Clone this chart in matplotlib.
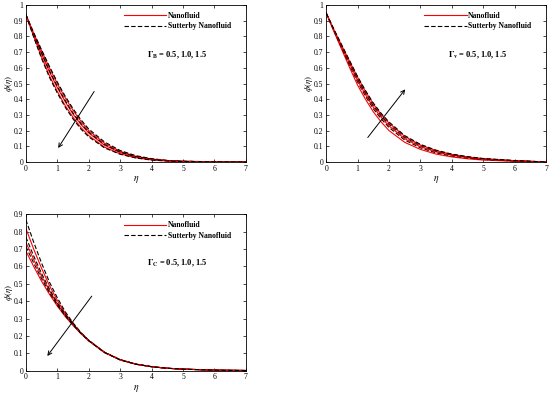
import matplotlib as mpl
import matplotlib.pyplot as plt

mpl.rcParams['font.family'] = ['Liberation Serif', 'DejaVu Serif']
mpl.rcParams['mathtext.fontset'] = 'stix'
mpl.rcParams['font.size'] = 5.5

# eta grid
eta = [0, 0.25, 0.5, 0.75, 1, 1.25, 1.5, 1.75, 2, 2.5, 3, 3.5, 4, 4.5, 5, 6, 7]

# panel 1: Gamma_B = 0.5, 1.0, 1.5
gb_nano = [
    [0.94, 0.82, 0.71, 0.60, 0.50, 0.41, 0.33, 0.26, 0.20, 0.12, 0.068, 0.036, 0.019, 0.009, 0.004, 0.001, 0],
    [0.94, 0.81, 0.69, 0.575, 0.475, 0.385, 0.305, 0.24, 0.185, 0.107, 0.06, 0.031, 0.016, 0.008, 0.0035, 0.0007, 0],
    [0.94, 0.80, 0.67, 0.55, 0.45, 0.36, 0.285, 0.22, 0.168, 0.095, 0.052, 0.027, 0.013, 0.006, 0.003, 0.0005, 0],
]
gb_sut = [
    [0.94, 0.825, 0.715, 0.61, 0.51, 0.42, 0.34, 0.27, 0.21, 0.128, 0.073, 0.04, 0.021, 0.01, 0.005, 0.001, 0],
    [0.94, 0.812, 0.695, 0.582, 0.482, 0.392, 0.312, 0.246, 0.19, 0.112, 0.063, 0.033, 0.017, 0.008, 0.004, 0.0008, 0],
    [0.94, 0.795, 0.66, 0.54, 0.44, 0.35, 0.275, 0.21, 0.16, 0.09, 0.049, 0.025, 0.012, 0.006, 0.0025, 0.0005, 0],
]

# panel 2: Gamma_v = 0.5, 1.0, 1.5
gv_nano = [
    [0.95, 0.83, 0.715, 0.60, 0.49, 0.40, 0.32, 0.255, 0.20, 0.125, 0.08, 0.05, 0.032, 0.02, 0.012, 0.004, 0],
    [0.95, 0.838, 0.73, 0.625, 0.52, 0.43, 0.35, 0.285, 0.23, 0.148, 0.097, 0.064, 0.042, 0.028, 0.018, 0.007, 0],
    [0.95, 0.842, 0.74, 0.64, 0.54, 0.45, 0.37, 0.303, 0.248, 0.163, 0.108, 0.072, 0.048, 0.032, 0.021, 0.008, 0],
]
gv_sut = [
    [0.95, 0.835, 0.725, 0.615, 0.51, 0.42, 0.34, 0.275, 0.22, 0.14, 0.09, 0.058, 0.038, 0.025, 0.016, 0.006, 0],
    [0.95, 0.84, 0.735, 0.632, 0.53, 0.44, 0.36, 0.295, 0.24, 0.157, 0.104, 0.069, 0.046, 0.031, 0.02, 0.008, 0],
    [0.95, 0.845, 0.745, 0.645, 0.545, 0.456, 0.376, 0.31, 0.255, 0.168, 0.112, 0.075, 0.05, 0.034, 0.022, 0.009, 0],
]

# panel 3: Gamma_C = 0.5, 1.0, 1.5
gc_nano = [
    [0.82, 0.70, 0.59, 0.49, 0.405, 0.33, 0.27, 0.217, 0.173, 0.105, 0.062, 0.037, 0.022, 0.013, 0.008, 0.002, 0],
    [0.74, 0.64, 0.545, 0.46, 0.385, 0.32, 0.265, 0.215, 0.172, 0.104, 0.062, 0.037, 0.022, 0.013, 0.008, 0.002, 0],
    [0.69, 0.60, 0.515, 0.44, 0.372, 0.312, 0.26, 0.213, 0.171, 0.104, 0.061, 0.036, 0.022, 0.013, 0.008, 0.002, 0],
]
gc_sut = [
    [0.87, 0.74, 0.62, 0.51, 0.42, 0.34, 0.275, 0.22, 0.175, 0.106, 0.063, 0.037, 0.022, 0.013, 0.008, 0.002, 0],
    [0.77, 0.66, 0.56, 0.47, 0.39, 0.325, 0.268, 0.216, 0.173, 0.105, 0.062, 0.037, 0.022, 0.013, 0.008, 0.002, 0],
    [0.715, 0.62, 0.53, 0.45, 0.378, 0.316, 0.263, 0.214, 0.172, 0.104, 0.061, 0.036, 0.022, 0.013, 0.008, 0.002, 0],
]

fig = plt.figure(figsize=(5.5, 3.95), dpi=100)
ax1 = fig.add_axes([0.047, 0.590, 0.400, 0.397])
ax2 = fig.add_axes([0.593, 0.590, 0.400, 0.397])
ax3 = fig.add_axes([0.047, 0.062, 0.400, 0.395])


def draw(ax, nano, sut, ymax, label, lab_y, arrow):
    for k in range(3):
        ax.plot(eta, nano[k], color='red', lw=0.8,
                label='Nanofluid' if k == 0 else None)
        ax.plot(eta, sut[k], color='black', lw=0.8, ls=(0, (4, 2)),
                label='Sutterby Nanofluid' if k == 0 else None)
    ax.set_xlim(0, 7)
    ax.set_ylim(0, ymax)
    ax.set_xticks(range(8))
    n = int(round(ymax * 10))
    ax.set_yticks([i / 10 for i in range(n + 1)])
    ax.set_yticklabels(['0' if i == 0 else ('1' if i == 10 else '%.1f' % (i / 10))
                        for i in range(n + 1)])
    ax.tick_params(direction='in', top=True, right=True, length=2, width=0.5,
                   labelsize=5.5, pad=2)
    for s in ax.spines.values():
        s.set_linewidth(0.6)
    ax.set_xlabel(r'$\eta$', fontsize=7, labelpad=1)
    ax.set_ylabel(r'$\phi(\eta)$', fontsize=6.5)
    ax.yaxis.set_label_coords(-0.05, 0.5)
    ax.legend(loc='upper left', bbox_to_anchor=(0.43, 0.975), frameon=False,
              handlelength=5.6, handletextpad=0.2, labelspacing=0.3,
              borderaxespad=0, prop={'weight': 'bold', 'size': 5.5})
    ax.text(3.87, lab_y, label, fontsize=6, fontweight='bold', va='center')
    ax.annotate('', xy=arrow[1], xytext=arrow[0],
                arrowprops=dict(arrowstyle='->', color='black', lw=0.7,
                                mutation_scale=7))


draw(ax1, gb_nano, gb_sut, 1.0, r'$\mathbf{\Gamma_B}$ = 0.5, 1.0, 1.5', 0.68,
     ((2.22, 0.464), (0.98, 0.074)))
draw(ax2, gv_nano, gv_sut, 1.0, r'$\mathbf{\Gamma_v}$ = 0.5, 1.0, 1.5', 0.68,
     ((1.27, 0.142), (2.57, 0.477)))
draw(ax3, gc_nano, gc_sut, 0.9, r'$\mathbf{\Gamma_C}$ = 0.5, 1.0, 1.5', 0.62,
     ((2.15, 0.442), (0.63, 0.071)))

plt.savefig('out.png', dpi=100)
